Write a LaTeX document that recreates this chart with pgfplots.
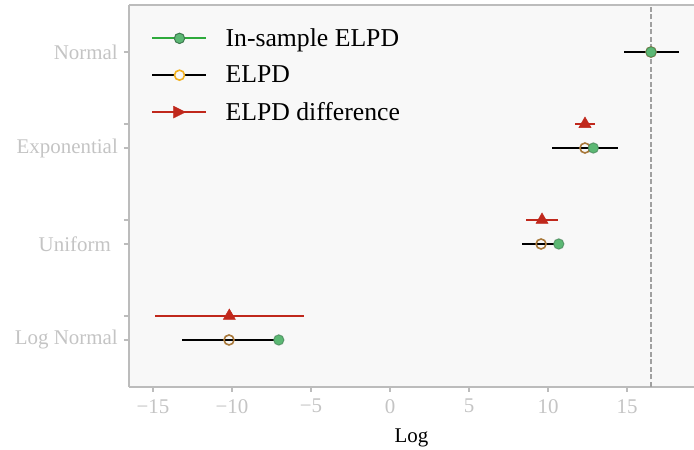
\documentclass[border=0pt]{standalone}
\usepackage{fontspec}
\setmainfont{Liberation Serif}
\usepackage{pgfplots}
\usepackage{pgfplotstable}
\pgfplotsset{compat=1.18}
\definecolor{bg}{HTML}{F8F8F8}
\definecolor{spine}{HTML}{BCBCBC}
\definecolor{ticklab}{HTML}{C4C4C4}
\definecolor{greenline}{HTML}{2EAA3C}
\definecolor{greenfill}{HTML}{5CB874}
\definecolor{greenedge}{HTML}{3E7A50}
\definecolor{ringleg}{HTML}{F2B01E}
\definecolor{ringc}{HTML}{A8783A}
\definecolor{redc}{HTML}{C0281C}
\definecolor{dashc}{HTML}{A0A0A0}

\pgfplotstableread{
y elpd se insample
3 16.52 1.74 16.52
2 12.34 2.06 12.87
1 9.56 1.20 10.68
0 -10.19 3.00 -7.04
}\elpdtab
\pgfplotstableread{
y elpd dse
2.25 12.34 0.61
1.25 9.62 1.01
0.25 -10.17 4.70
}\difftab

\begin{document}
\begin{tikzpicture}
\useasboundingbox (0,0) rectangle (694bp,450bp);
\begin{axis}[
  at={(129bp,63bp)}, anchor=south west,
  scale only axis, width=565bp, height=382bp,
  xmin=-16.52, xmax=19.24, ymin=-0.49, ymax=3.49,
  axis background/.style={fill=bg},
  axis x line*=bottom, axis y line*=left,
  x axis line style={-}, y axis line style={-},
  axis line style={draw=spine, line width=1.5bp},
  tick align=outside, major tick length=5bp,
  tick style={draw=spine, line width=1.2bp},
  xtick={-15,-10,-5,0,5,10,15},
  xticklabels={−15,−10,−5,0,5,10,15},
  ytick={0,0.25,1,1.25,2,2.25,3},
  yticklabels={Log Normal,,Uniform\hspace*{7bp},,Exponential,,Normal},
  ticklabel style={font=\fontsize{21}{24}\selectfont, text=ticklab},
  yticklabel style={inner sep=1bp, xshift=-5bp},
  xticklabel style={inner sep=2bp, yshift=-5bp},
  xlabel={Log},
  xlabel style={font=\fontsize{21}{24}\selectfont, text=black, inner sep=0pt, yshift=-13bp},
  legend style={at={(0.034,0.949)}, anchor=north west, draw=none, fill=none,
    font=\fontsize{25.8}{30}\selectfont, row sep=14bp, column sep=16bp,
    nodes={inner sep=2bp}},
  legend cell align=left,
]
\addlegendimage{legend image code/.code={
  \draw[greenline, line width=2.2bp] (0bp,0bp) -- (54bp,0bp);
  \draw[fill=greenfill, draw=greenedge, line width=1bp] (27bp,0bp) circle (5.2bp);
}}
\addlegendentry{In-sample ELPD}
\addlegendimage{legend image code/.code={
  \draw[black, line width=2.2bp] (0bp,0bp) -- (54bp,0bp);
  \draw[fill=bg, draw=ringleg, line width=1.6bp] (27bp,0bp) circle (5bp);
}}
\addlegendentry{ELPD}
\addlegendimage{legend image code/.code={
  \draw[redc, line width=2.2bp] (0bp,0bp) -- (54bp,0bp);
  \fill[redc] (21bp,-6bp) -- (33bp,0bp) -- (21bp,6bp) -- cycle;
}}
\addlegendentry{ELPD difference}

\addplot[dashc, dashed, line width=1.2bp, dash pattern=on 5bp off 2.5bp, forget plot]
  coordinates {(16.52,-0.49) (16.52,3.49)};

\addplot[only marks, mark=triangle*, mark size=7bp, color=redc,
  mark options={fill=redc, draw=redc, line width=0.5bp}, forget plot,
  error bars/.cd, x dir=both, x explicit, error mark=none,
  error bar style={redc, line width=2bp}]
  table[x=elpd, y=y, x error=dse] {\difftab};

\addplot[only marks, mark=o, mark size=5bp, color=ringc,
  mark options={draw=ringc, line width=1.6bp, fill=none}, forget plot,
  error bars/.cd, x dir=both, x explicit, error mark=none,
  error bar style={black, line width=2bp}]
  table[x=elpd, y=y, x error=se] {\elpdtab};

\addplot[only marks, mark=*, mark size=5.2bp,
  mark options={fill=greenfill, draw=greenedge, draw opacity=0.6, line width=1bp}, forget plot]
  table[x=insample, y=y] {\elpdtab};

\draw[spine, line width=1.5bp] (rel axis cs:0,1) -- (rel axis cs:1.05,1);
\end{axis}
\end{tikzpicture}
\end{document}
